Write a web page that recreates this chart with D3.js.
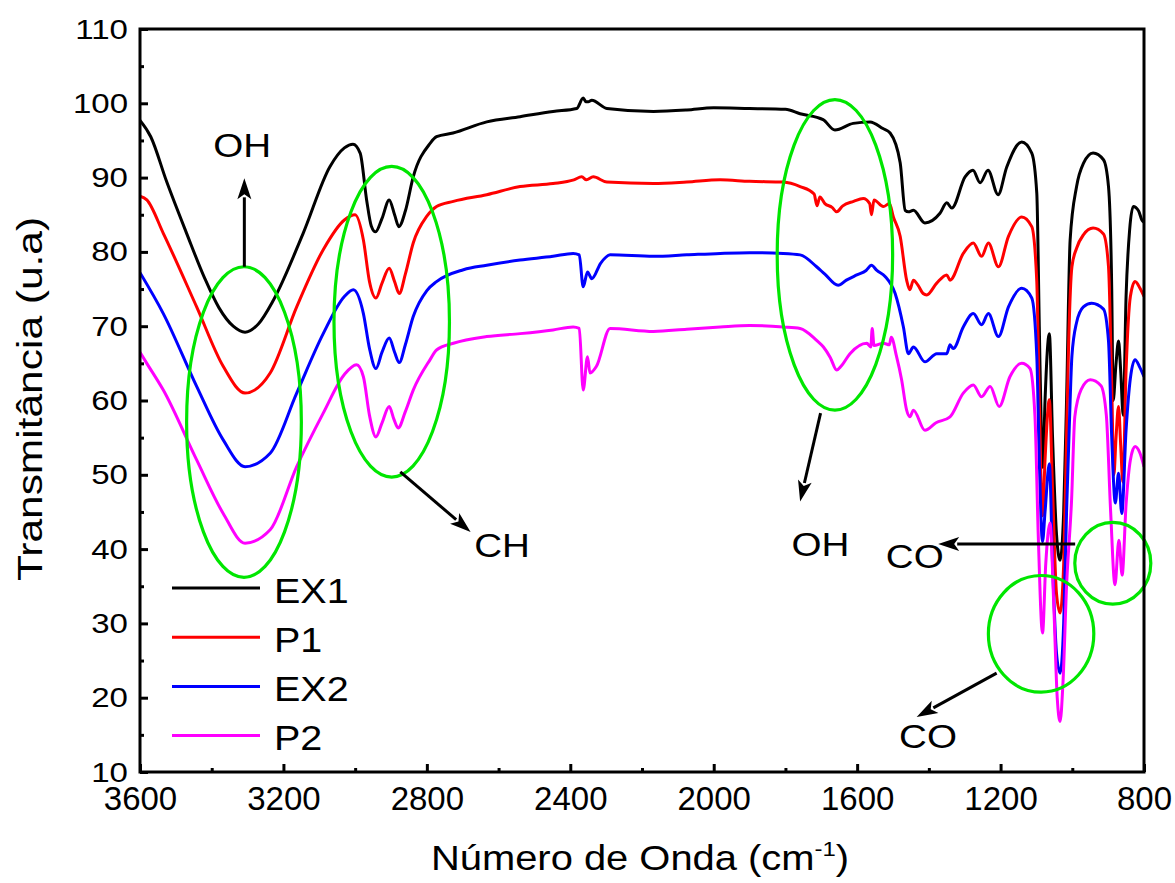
<!DOCTYPE html>
<html>
<head>
<meta charset="utf-8">
<script src="https://cdn.jsdelivr.net/npm/d3@7"></script>
<style>
  html, body { margin: 0; padding: 0; background: #fff; }
  svg text { font-family: "Liberation Sans", Arial, sans-serif; fill: #000; }
</style>
</head>
<body>
<svg id="chart" width="1175" height="883"></svg>
<script>
// ---------------- data (wavenumber cm-1, transmittance u.a) ----------------
const seriesNames = ["EX1", "P1", "EX2", "P2"];
const seriesColors = ["#000000", "#ff0000", "#0000ff", "#ff00ff"];

const ex1 = [[3600,97.7],[3570,95.5],[3526,89.5],[3470,82.5],[3420,76.5],[3380,72.5],[3340,70],[3307,69.2],[3270,70.3],[3228,73.5],[3145,82.5],[3070,91.5],[3030,94],[3006,94.5],[2986,93.3],[2968,87],[2955,83.5],[2943,82.7],[2925,84.5],[2905,87],[2890,85],[2878,83.4],[2860,85.5],[2838,90.1],[2791,94.6],[2773,95.5],[2727,96],[2633,97.5],[2540,98.2],[2448,98.9],[2382,99.3],[2364,100.7],[2356,100.2],[2350,100.2],[2340,100.4],[2298,99.3],[2168,98.9],[2075,99.1],[2000,99.4],[1900,99.3],[1800,99.2],[1759,98.6],[1695,97.8],[1662,96.4],[1611,97.3],[1564,97.5],[1528,96.6],[1508,96],[1480,92],[1466,85.6],[1457,85.4],[1443,85.6],[1411,83.9],[1369,85.2],[1350,86.6],[1336,85.9],[1299,90.1],[1277,91],[1257,89.3],[1235,91],[1207,87.7],[1183,91.4],[1141,94.8],[1113,93.3],[1099,87.9],[1092,70],[1086,55],[1082,51],[1076,60],[1064,69],[1055,55],[1044,42],[1034,38.5],[1024,45],[1016,60],[1006,81.6],[988,88.8],[969,91.9],[942,93.3],[913,92.4],[899,88.8],[890,75],[886,60],[878,65],[871,68],[865,64],[858,58],[850,74],[840,83],[830,86.1],[815,85.5],[806,84.3],[800,84]];

const p1 = [[3600,87.5],[3581,87],[3535,82.5],[3442,72.6],[3368,64.6],[3307,61],[3237,63.7],[3163,72.6],[3089,80.3],[3030,84.3],[3000,85],[2977,81.6],[2960,76],[2942,73.8],[2925,75.8],[2905,77.8],[2890,76],[2877,74.4],[2860,77],[2838,81.2],[2800,84.8],[2773,86.1],[2726,86.8],[2633,87.7],[2540,88.8],[2448,89.2],[2390,89.7],[2368,90.1],[2355,89.7],[2336,90.1],[2298,89.4],[2168,89.2],[2075,89.4],[1982,89.7],[1900,89.5],[1806,89.4],[1759,88.8],[1720,87.8],[1712,86.2],[1704,87.4],[1690,86.5],[1670,86],[1657,85.4],[1640,86.2],[1610,86.8],[1583,87.2],[1565,86.5],[1560,85],[1553,87],[1527,86.1],[1510,86.5],[1499,84.7],[1480,82.1],[1462,76.2],[1453,74.9],[1443,76.2],[1430,75.5],[1416,74.4],[1406,74.2],[1378,75.8],[1350,76.9],[1341,76.2],[1304,79.8],[1276,81.2],[1253,79.4],[1234,81.2],[1206,78],[1178,82.1],[1141,84.7],[1113,83.4],[1099,76],[1092,60],[1083,44.5],[1076,52],[1064,60.1],[1055,48],[1044,34],[1034,31.4],[1024,38],[1016,55],[1010,68],[1001,78],[988,80.5],[969,82.3],[942,83.2],[913,82.4],[899,78],[890,62],[884,50],[878,55],[871,59.2],[865,54],[859,49],[850,64],[838,74],[825,76],[810,75],[800,74]];

const ex2 = [[3600,77.2],[3535,71.7],[3442,61.9],[3368,54.7],[3307,51.1],[3237,52.9],[3163,61],[3089,69],[3030,74],[3005,74.9],[2977,71.7],[2960,67],[2942,64.3],[2925,66.5],[2905,68.4],[2890,66.5],[2877,65.1],[2860,67.5],[2838,71.3],[2800,74.8],[2773,76],[2698,77.6],[2633,78.2],[2540,78.9],[2448,79.4],[2392,79.8],[2375,79.6],[2364,75.3],[2352,77.3],[2340,76.4],[2315,78.5],[2289,79.6],[2168,79.4],[2075,79.6],[1982,79.8],[1900,79.9],[1806,79.8],[1759,79.6],[1713,78],[1690,77],[1653,75.5],[1630,76.2],[1601,76.9],[1575,77.5],[1560,78.2],[1545,77.5],[1522,76.7],[1494,74.4],[1471,69.9],[1457,66.3],[1443,67.2],[1411,65.2],[1378,66.3],[1350,66.3],[1341,67.5],[1332,67],[1304,69.9],[1276,71.7],[1253,70.2],[1234,71.7],[1206,68.6],[1178,72.6],[1141,75.1],[1113,73.8],[1099,66],[1092,52],[1083,41],[1076,45],[1064,51.5],[1055,38],[1044,26],[1034,23.3],[1024,30],[1016,45],[1006,60],[1001,66],[988,70.5],[969,72.6],[946,73.1],[913,72.3],[899,68],[890,55],[880,46.2],[871,50.2],[862,44.8],[850,56],[838,63],[825,65.5],[812,64.5],[800,63.2]];

const p2 = [[3600,66.5],[3581,65],[3535,61.4],[3442,52],[3368,44.8],[3307,40.8],[3237,42.6],[3163,51.1],[3089,58.3],[3030,63.5],[2996,64.8],[2977,63.2],[2960,58],[2942,55.1],[2925,57],[2905,59.2],[2892,57.5],[2880,56.3],[2860,58.5],[2838,61.4],[2791,65.5],[2773,66.8],[2726,67.7],[2633,68.6],[2540,69],[2448,69.5],[2392,69.9],[2375,69.7],[2364,61.4],[2352,65.9],[2345,63.7],[2327,64.6],[2289,69.7],[2168,69.3],[2075,69.6],[1982,69.9],[1900,70.1],[1806,69.9],[1759,69.7],[1713,68.1],[1694,67.2],[1675,65.8],[1657,64.1],[1645,64.6],[1620,66.3],[1573,67.7],[1562,67.2],[1558,69.7],[1553,67.4],[1527,67.7],[1510,67.5],[1505,68.5],[1490,65.9],[1476,62.8],[1462,58.7],[1453,57.8],[1443,58.7],[1411,56],[1380,57],[1341,57.8],[1304,61],[1276,62.1],[1253,60.5],[1229,61.9],[1204,59.2],[1174,63.2],[1141,65],[1118,64.3],[1104,57.8],[1095,42],[1083,28.7],[1074,38],[1062,43.5],[1052,33],[1042,20],[1034,16.8],[1026,22],[1016,35],[1002,46.6],[993,57.8],[975,61.5],[950,62.8],[920,62],[905,58],[893,45],[881,35.2],[870,41.2],[861,36.5],[850,46],[838,52],[825,53.8],[812,53],[800,51.1]];

const seriesData = [ex1, p1, ex2, p2];

const xMajorTicks = [3600, 3200, 2800, 2400, 2000, 1600, 1200, 800];
const xMinorTicks = [3400, 3000, 2600, 2200, 1800, 1400, 1000];
const yMajorTicks = [10, 20, 30, 40, 50, 60, 70, 80, 90, 100, 110];
const yMinorTicks = [15, 25, 35, 45, 55, 65, 75, 85, 95, 105];

// annotations, in data units (wavenumber, transmittance)
const ellipses = [
  {cx: 3310, cy: 57.1, rx: 160, ry: 20.9},
  {cx: 2898, cy: 70.6, rx: 161, ry: 20.9},
  {cx: 1662, cy: 79.6, rx: 161, ry: 20.9},
  {cx: 1087, cy: 28.6, rx: 147, ry: 7.85},
  {cx: 887,  cy: 38.1, rx: 106, ry: 5.5}
];
const arrows = [
  {x1: 3309, y1: 78.0, x2: 3309, y2: 89.9},
  {x1: 2874, y1: 50.4, x2: 2678, y2: 42.3},
  {x1: 1702, y1: 58.3, x2: 1759, y2: 46.4},
  {x1: 992,  y1: 40.7, x2: 1374, y2: 40.7},
  {x1: 1211, y1: 23.3, x2: 1434, y2: 17.4}
];
const labels = [
  {text: "OH", x: 3396, y: 92.8},
  {text: "CH", x: 2668, y: 38.9},
  {text: "OH", x: 1783, y: 39.1},
  {text: "CO", x: 1520, y: 37.4},
  {text: "CO", x: 1483, y: 13.2}
];

// ---------------- drawing ----------------
const svg = d3.select("#chart");
const pL = 140, pR = 1144, pT = 29, pB = 772;
const x = d3.scaleLinear().domain([3600, 800]).range([pL, pR]);
const y = d3.scaleLinear().domain([10, 110]).range([pB, pT]);

function stretchedText(g, str, px, py, size, sx, anchor) {
  return g.append("text")
    .attr("transform", `translate(${px},${py}) scale(${sx},1)`)
    .attr("text-anchor", anchor || "start")
    .attr("font-size", size)
    .text(str);
}

// series lines
const line = d3.line().x(d => x(d[0])).y(d => y(d[1])).curve(d3.curveMonotoneX);
const plot = svg.append("g");
plot.append("clipPath").attr("id", "clip").append("rect")
  .attr("x", pL).attr("y", pT).attr("width", pR - pL).attr("height", pB - pT);
const lines = plot.append("g").attr("clip-path", "url(#clip)");
seriesData.forEach((s, i) => {
  lines.append("path").datum(s)
    .attr("d", line)
    .attr("fill", "none")
    .attr("stroke", seriesColors[i])
    .attr("stroke-width", 3)
    .attr("stroke-linejoin", "round");
});

// green ellipses
const annG = svg.append("g");
ellipses.forEach(e => {
  annG.append("ellipse")
    .attr("cx", x(e.cx)).attr("cy", y(e.cy))
    .attr("rx", Math.abs(x(e.cx - e.rx) - x(e.cx)))
    .attr("ry", Math.abs(y(e.cy + e.ry) - y(e.cy)))
    .attr("fill", "none").attr("stroke", "#00e600").attr("stroke-width", 3.2);
});

// arrows
arrows.forEach(a => {
  const x1 = x(a.x1), y1 = y(a.y1), x2 = x(a.x2), y2 = y(a.y2);
  const dx = x2 - x1, dy = y2 - y1, len = Math.hypot(dx, dy);
  const ux = dx / len, uy = dy / len;
  const hl = 21, hw = 7;
  const bx = x2 - ux * hl, by = y2 - uy * hl;
  annG.append("line").attr("x1", x1).attr("y1", y1).attr("x2", bx + ux * 2).attr("y2", by + uy * 2)
    .attr("stroke", "#000").attr("stroke-width", 3);
  annG.append("path")
    .attr("d", `M${x2},${y2}L${bx - uy * hw},${by + ux * hw}L${bx + ux * 5},${by + uy * 5}L${bx + uy * hw},${by - ux * hw}Z`)
    .attr("fill", "#000");
});

// labels
labels.forEach(l => stretchedText(annG, l.text, x(l.x), y(l.y), 33, 1.17));

// axes
const axG = svg.append("g");
const xAxis = axG.append("g").attr("transform", `translate(0,${pB})`)
  .call(d3.axisBottom(x).tickValues(xMajorTicks).tickSize(-8).tickFormat(d3.format("d")));
axG.append("g").attr("transform", `translate(0,${pB})`)
  .call(d3.axisBottom(x).tickValues(xMinorTicks).tickSize(-4).tickFormat(""));
const yAxis = axG.append("g").attr("transform", `translate(${pL},0)`)
  .call(d3.axisLeft(y).tickValues(yMajorTicks).tickSize(-8).tickFormat(d3.format("d")));
axG.append("g").attr("transform", `translate(${pL},0)`)
  .call(d3.axisLeft(y).tickValues(yMinorTicks).tickSize(-4).tickFormat(""));
axG.selectAll(".domain").remove();
axG.selectAll(".tick line").attr("stroke", "#000").attr("stroke-width", 3);

xAxis.selectAll(".tick text").each(function () {
  const t = d3.select(this);
  t.attr("y", null).attr("dy", null)
   .attr("transform", `translate(0,38)`)
   .attr("font-size", 33).attr("font-family", "Liberation Sans, Arial, sans-serif");
});
yAxis.selectAll(".tick text").each(function () {
  const t = d3.select(this);
  t.attr("x", null).attr("dy", null)
   .attr("transform", `translate(-12,9) scale(1.18,1)`)
   .attr("font-size", 28).attr("font-family", "Liberation Sans, Arial, sans-serif");
});

// frame
svg.append("rect").attr("x", pL).attr("y", pT).attr("width", pR - pL).attr("height", pB - pT)
  .attr("fill", "none").attr("stroke", "#000").attr("stroke-width", 3);

// legend
const legG = svg.append("g");
seriesNames.forEach((n, i) => {
  const ly = 588 + i * 49.2;
  legG.append("line").attr("x1", 172).attr("x2", 260).attr("y1", ly).attr("y2", ly)
    .attr("stroke", seriesColors[i]).attr("stroke-width", 3);
  stretchedText(legG, n, 274, ly + 14.5, 35, 1.13);
});

// axis titles
const xt = svg.append("text")
  .attr("transform", `translate(640,870) scale(1.14,1)`)
  .attr("text-anchor", "middle").attr("font-size", 35);
xt.append("tspan").text("Número de Onda (cm");
xt.append("tspan").attr("font-size", 21).attr("dy", -14).text("-1");
xt.append("tspan").attr("dy", 14).text(")");

svg.append("text")
  .attr("transform", `translate(42,399) rotate(-90) scale(1.18,1)`)
  .attr("text-anchor", "middle").attr("font-size", 36)
  .text("Transmitância (u.a)");
</script>
</body>
</html>
